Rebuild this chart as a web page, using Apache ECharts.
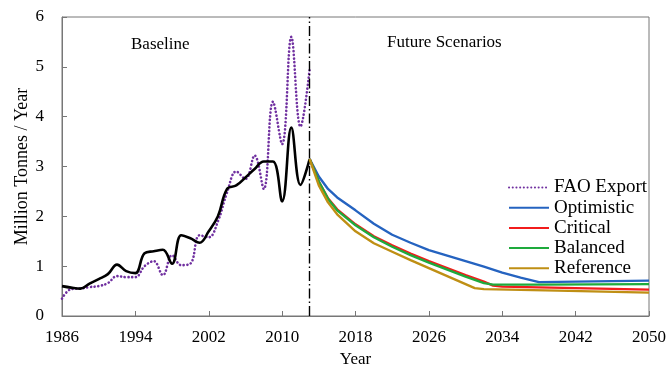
<!DOCTYPE html>
<html><head><meta charset="utf-8">
<script src="https://cdn.jsdelivr.net/npm/echarts@6/dist/echarts.min.js"></script>
<style>html,body{margin:0;padding:0;background:#fff}#c{width:668px;height:366px}</style>
</head><body><div id="c"></div>
<script>
var BASE_YEAR = 1986;
var histYears = [1986,1987,1988,1989,1990,1991,1992,1993,1994,1995,1996,1997,1998,1999,2000,2001,2002,2003,2004,2005,2006,2007,2008,2009,2010,2011,2012,2013];
var faoExport = [0.35,0.54,0.55,0.58,0.60,0.66,0.80,0.78,0.78,1.00,1.10,0.82,1.22,1.02,1.05,1.62,1.58,1.90,2.48,2.90,2.75,3.22,2.55,4.30,3.45,5.60,3.80,4.95];
var baseline  = [0.60,0.57,0.55,0.65,0.74,0.84,1.03,0.90,0.86,1.26,1.30,1.33,1.05,1.62,1.56,1.47,1.70,2.00,2.55,2.62,2.78,2.95,3.10,3.10,2.30,3.78,2.63,3.15];

var optYears = [2013,2014,2015,2016,2018,2020,2022,2024,2026,2028,2030,2032,2034,2036,2038,2042,2046,2050];
var optimistic = [3.15,2.80,2.55,2.38,2.12,1.85,1.63,1.47,1.32,1.21,1.10,0.99,0.87,0.77,0.68,0.69,0.70,0.71];
var critYears = [2013,2014,2015,2016,2018,2020,2022,2024,2026,2028,2030,2032,2033,2034,2042,2050];
var critical = [3.15,2.70,2.36,2.14,1.84,1.60,1.42,1.25,1.10,0.96,0.82,0.69,0.61,0.59,0.56,0.53];
var balYears = [2013,2014,2015,2016,2018,2020,2022,2024,2026,2028,2030,2032,2033,2038,2050];
var balanced = [3.15,2.70,2.35,2.12,1.82,1.58,1.39,1.22,1.07,0.93,0.79,0.66,0.63,0.63,0.64];
var refYears = [2013,2014,2015,2016,2018,2020,2022,2024,2026,2028,2030,2031,2032,2040,2050];
var reference = [3.15,2.62,2.28,2.04,1.70,1.46,1.29,1.12,0.96,0.80,0.64,0.56,0.54,0.51,0.47];

var xTickLabels = [1986,1994,2002,2010,2018,2026,2034,2042,2050];
var yTickLabels = [0,1,2,3,4,5,6];
var dividerYear = 2013;

function pts(years, vals){ return years.map(function(y,i){ return [y-BASE_YEAR, vals[i]]; }); }

var FONT = 'Liberation Serif';
var chart = echarts.init(document.getElementById('c'));
chart.setOption({
  animation:false,
  backgroundColor:'#fff',
  grid:{left:62,right:19,top:17,bottom:50,show:true,borderColor:'#777',borderWidth:1,
    containLabel:false,outerBoundsMode:'none'},
  xAxis:{type:'value',min:0,max:xTickLabels[xTickLabels.length-1]-BASE_YEAR,interval:8,
    name:'Year',nameLocation:'middle',nameGap:35,
    nameTextStyle:{fontFamily:FONT,fontSize:17,color:'#000'},
    axisLine:{show:true,lineStyle:{color:'#777'}},
    axisTick:{show:true,inside:true,length:5,lineStyle:{color:'#777'}},
    axisLabel:{fontFamily:FONT,fontSize:17,color:'#000',margin:13,
      formatter:function(v){return String(v+BASE_YEAR);}},
    splitLine:{show:false}},
  yAxis:{type:'value',min:yTickLabels[0],max:yTickLabels[yTickLabels.length-1],interval:1,
    name:'Million Tonnes / Year',nameLocation:'middle',nameGap:31,nameMoveOverlap:false,
    nameTextStyle:{fontFamily:FONT,fontSize:18,color:'#000'},
    axisLine:{show:true,lineStyle:{color:'#777'}},
    axisTick:{show:true,inside:true,length:5,lineStyle:{color:'#777'}},
    axisLabel:{fontFamily:FONT,fontSize:17,color:'#000',margin:18},
    splitLine:{show:false}},
  legend:{orient:'vertical',left:508,top:178,padding:0,itemWidth:40,itemHeight:14,itemGap:1.2,
    itemStyle:{opacity:0},
    textStyle:{fontFamily:FONT,fontSize:19,color:'#000'},
    data:['FAO Export','Optimistic','Critical','Balanced','Reference']},
  graphic:[
    {type:'text',left:131,top:36,style:{text:'Baseline',font:'17px "Liberation Serif"',fill:'#000'}},
    {type:'text',left:387,top:34,style:{text:'Future Scenarios',font:'17px "Liberation Serif"',fill:'#000'}}
  ],
  series:[
    {name:'FAO Export',type:'line',smooth:0.4,symbol:'none',data:pts(histYears,faoExport),
      lineStyle:{color:'#7030A0',width:2.6,type:[0.1,3.6],cap:'round'},itemStyle:{color:'#7030A0'},z:3},
    {name:'Baseline',type:'line',smooth:0.4,symbol:'none',data:pts(histYears,baseline),
      lineStyle:{color:'#000',width:2.6},itemStyle:{color:'#000'},z:4,
      markLine:{silent:true,symbol:'none',label:{show:false},
        lineStyle:{color:'#000',width:1.4,type:[10,3,1.5,3]},
        data:[{xAxis:dividerYear-BASE_YEAR}]}},
    {name:'Optimistic',type:'line',symbol:'none',data:pts(optYears,optimistic),
      lineStyle:{color:'#2563C0',width:2.4},itemStyle:{color:'#2563C0'},z:5},
    {name:'Critical',type:'line',symbol:'none',data:pts(critYears,critical),
      lineStyle:{color:'#F21C1C',width:2.4},itemStyle:{color:'#F21C1C'},z:5},
    {name:'Balanced',type:'line',symbol:'none',data:pts(balYears,balanced),
      lineStyle:{color:'#1EAA3C',width:2.4},itemStyle:{color:'#1EAA3C'},z:6},
    {name:'Reference',type:'line',symbol:'none',data:pts(refYears,reference),
      lineStyle:{color:'#BF8F14',width:2.4},itemStyle:{color:'#BF8F14'},z:7}
  ]
});
</script></body></html>
